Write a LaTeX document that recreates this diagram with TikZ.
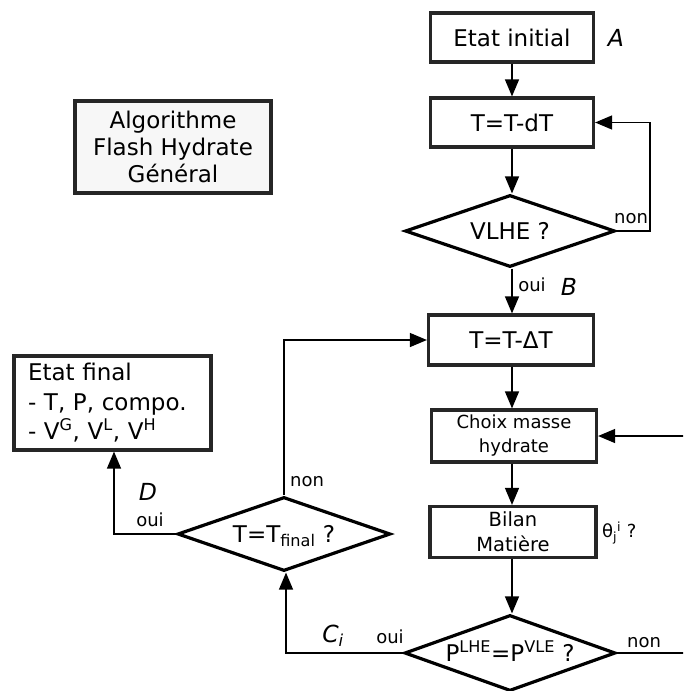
\documentclass[tikz,border=0pt]{standalone}
\usepackage{fontspec}
\setmainfont{DejaVu Sans}
\usetikzlibrary{shapes.geometric,arrows.meta}
\newcommand\dtext[1]{\makebox[0pt]{\raisebox{-0.36em}[0pt][0pt]{#1}}}
\begin{document}
\begin{tikzpicture}[x=1pt,y=-1pt,
  box/.style={draw=black!85,line width=3.2pt,rectangle,inner sep=0pt,align=center,font=\fontsize{23}{27}\selectfont},
  dia/.style={draw=black,line width=3.2pt,diamond,inner sep=0pt,font=\fontsize{23}{27}\selectfont},
  conn/.style={line width=1.3pt,-{Triangle[length=17pt,width=14pt]}},
  plain/.style={line width=1.3pt},
  lab/.style={font=\fontsize{18}{20}\selectfont,inner sep=0pt},
  ilab/.style={font=\fontsize{23.5}{27}\selectfont\itshape,inner sep=0pt}]
\useasboundingbox (0,0) rectangle (683,691);
\clip (0,0) rectangle (683,691);
\fill[white] (0,0) rectangle (683,691);

\node[box,fill=black!3,minimum width=196pt,minimum height=92pt] (algo) at (173,147) {Algorithme\\Flash Hydrate\\Général};

\node[box,minimum width=163pt,minimum height=49pt] (init) at (512,37.5) {Etat initial};
\node[box,minimum width=163pt,minimum height=49pt] (dT) at (512,122.5) {T=T-dT};
\node[dia,minimum width=210pt,minimum height=72pt] (vlhe) at (510,231) {\dtext{VLHE ?}};
\node[box,minimum width=165pt,minimum height=50pt] (DT) at (511,340) {T=T-ΔT};
\node[box,font=\fontsize{18}{24}\selectfont,minimum width=165pt,minimum height=52pt] (choix) at (514,436) {Choix masse\\hydrate};
\node[box,font=\fontsize{19.5}{25}\selectfont,minimum width=166pt,minimum height=51pt] (bilan) at (513,532) {Bilan\\Matière};
\node[dia,minimum width=211pt,minimum height=76pt] (P) at (510,653) {\dtext{P\textsuperscript{LHE}=P\textsuperscript{VLE} ?}};
\node[dia,minimum width=213pt,minimum height=74pt] (Tf) at (284,534) {\dtext{T=T\textsubscript{final} ?}};
\node[box,align=left,font=\fontsize{23}{29.5}\selectfont,minimum width=197pt,minimum height=94pt,text width=169pt] (final) at (112.5,403)
  {Etat final\\- T, P, compo.\\- V\textsuperscript{G}, V\textsuperscript{L}, V\textsuperscript{H}};

\coordinate (rA) at (650,231);
\coordinate (rB) at (650,122.5);
\coordinate (eC) at (690,436);
\coordinate (eP) at (690,653);
\coordinate (cL) at (286,653);
\coordinate (tN) at (284,340);
\coordinate (dL) at (114,534);

\draw[conn] (init) -- (dT);
\draw[conn] (dT.south) -- (dT.south |- vlhe.north);
\draw[conn] (vlhe.east) -- (rA) -- (rB) -- (dT.east);
\draw[conn] (dT.south |- vlhe.south) -- (dT.south |- DT.north);
\draw[conn] (dT.south |- DT.south) -- (dT.south |- choix.north);
\draw[conn] (dT.south |- choix.south) -- (dT.south |- bilan.north);
\draw[conn] (dT.south |- bilan.south) -- (dT.south |- P.north);
\draw[conn] (eC) -- (choix.east);
\draw[plain] (P.east) -- (eP);
\draw[conn] (P.west) -- (cL) -- (Tf.south -| cL);
\draw[conn] (Tf.north) -- (tN) -- (DT.west);
\draw[conn] (Tf.west) -- (dL) -- (final.south -| dL);

\node[ilab] (la) at (616,38) {A};
\node[lab] (lnon1) at (631,219) {non};
\node[lab] (loui1) at (532,285) {oui};
\node[ilab] (lb) at (569,287) {B};
\node[lab] (lnon2) at (307,482) {non};
\node[ilab] (ld) at (148,492) {D};
\node[lab] (loui2) at (150,520) {oui};
\node[ilab] (lc) at (333,636) {C\textsubscript{i}};
\node[lab] (loui3) at (390,637) {oui};
\node[lab] (lnon3) at (644,643) {non};
\node[lab,anchor=west] (lth) at (602,533) {θ\textsubscript{j}\textsuperscript{i} ?};
\end{tikzpicture}
\end{document}
